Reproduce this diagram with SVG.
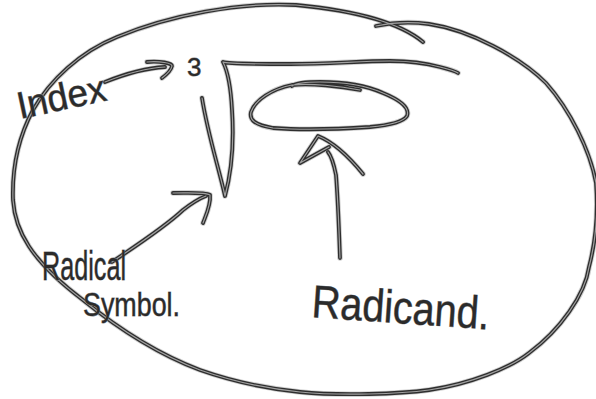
<svg xmlns="http://www.w3.org/2000/svg" xmlns:xlink="http://www.w3.org/1999/xlink" width="596" height="399" viewBox="0 0 596 399">
<style>
.halo{fill:none;stroke:#cfcfcf;stroke-width:5.6;stroke-linecap:round;stroke-linejoin:round}
.outer{fill:none;stroke:#2e2e2e;stroke-width:3.8;stroke-linecap:round;stroke-linejoin:round}
.inner{fill:none;stroke:#a0a0a0;stroke-width:1.2;stroke-linecap:round;stroke-linejoin:round}
.lbl{font-family:"Liberation Sans","DejaVu Sans",sans-serif;fill:#2b2b2b;stroke:#8a8a8a;stroke-width:0.8;paint-order:stroke}
</style>
<rect width="596" height="399" fill="#fff"/>
<g class="halo"><use href="#diagram"/></g>
<g class="outer">
<g id="diagram">
  <g id="outer-ellipse">
    <path d="M423,42 C405,27 370,12 296,5 C240,2 170,15 117,37 C80,52 50,80 33,110 C18,138 12,170 13,200 C15,230 30,260 83,300 C120,330 160,355 200,370 C240,384 280,390 300,392 C340,396 400,394 429,390 C470,384 510,368 529,353 C560,330 585,295 589,267 C596,240 598,210 596,183 C590,150 570,110 546,83 C520,57 470,30 429,24 C405,21 390,23 376,26"/>
  </g>
  <g id="radical">
    <path d="M202,98 C208,135 218,165 225,196 C232,170 234,140 232,110 C231,90 228,72 223,62 C225,63 240,64 290,64 C330,64 360,61 390,61 C410,61 425,63 440,67 C448,69 455,71 458,73"/>
  </g>
  <g id="radicand">
    <path d="M360,90 C340,86 310,83 292,85 C272,89 255,100 251,112 C249,120 255,125 273,128 C300,130 340,129 370,127 C392,125 404,121 407,116 C410,108 400,100 383,93 C365,85 345,82 320,82 C305,82 296,83 292,86"/>
  </g>
  <g id="connectors">
    <path d="M105,82 C125,74 145,68 165,67"/>
    <path d="M147,62 C160,61 172,63 172,66 C171,71 166,75 162,78"/>
    <path d="M340,258 C339,230 338,200 336,175 C334,165 332,157 328,152"/>
    <path d="M363,174 C350,158 333,142 318,136 L300,163 L329,147"/>
    <path d="M112,262 C140,243 165,227 183,210 C192,203 198,199 206,196"/>
    <path d="M173,193 C190,193 205,192 210,195 C211,205 206,215 203,223"/>
  </g>
</g>
</g>
<g class="inner"><use href="#diagram"/></g>
<g id="index-label"><text class="lbl" x="20" y="119" font-size="38" textLength="90" lengthAdjust="spacingAndGlyphs" transform="rotate(-12 20 119)">Index</text></g>
<g id="index-value"><text class="lbl" x="187" y="76" font-size="26">3</text></g>
<g id="radical-label">
  <text class="lbl" x="42" y="280" font-size="40" textLength="84" lengthAdjust="spacingAndGlyphs">Radical</text>
  <text class="lbl" x="83" y="316" font-size="34" textLength="97" lengthAdjust="spacingAndGlyphs">Symbol.</text>
</g>
<g id="radicand-label"><text class="lbl" x="311" y="317" font-size="46" textLength="178" lengthAdjust="spacingAndGlyphs" transform="rotate(4 311 317)">Radicand.</text></g>
</svg>
